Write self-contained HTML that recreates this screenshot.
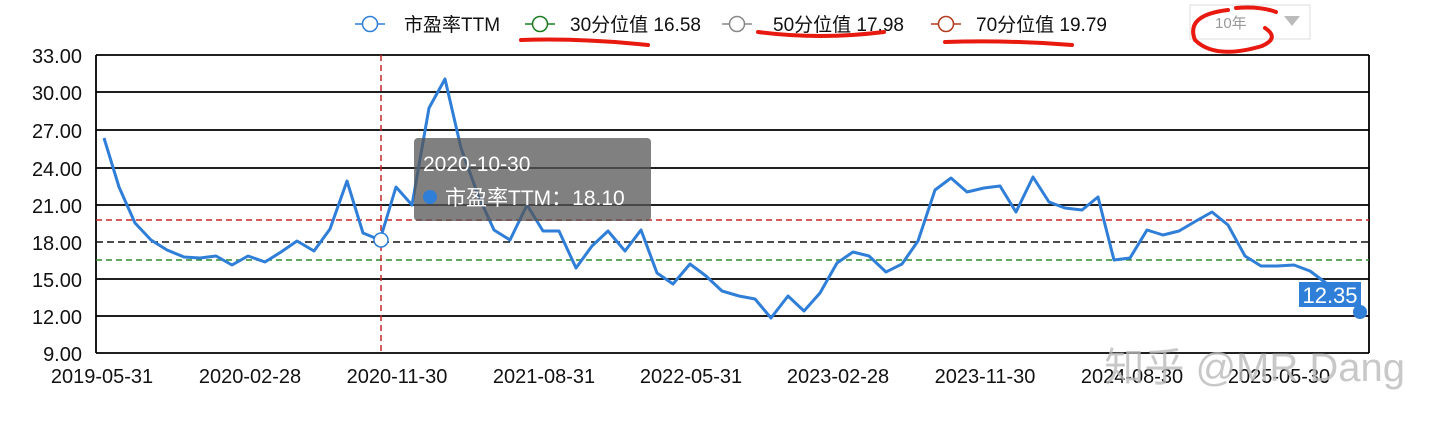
<!DOCTYPE html>
<html><head><meta charset="utf-8"><style>
html,body{margin:0;padding:0;background:#fff;width:1440px;height:424px;overflow:hidden}
text{font-family:"Liberation Sans","Noto Sans CJK SC",sans-serif}
</style></head><body>
<svg width="1440" height="424" viewBox="0 0 1440 424" xmlns="http://www.w3.org/2000/svg">
<g stroke="#000" stroke-width="1.8">
<line x1="96" y1="55" x2="1369" y2="55"/><line x1="96" y1="92" x2="1369" y2="92"/>
<line x1="96" y1="130" x2="1369" y2="130"/><line x1="96" y1="168" x2="1369" y2="168"/>
<line x1="96" y1="205" x2="1369" y2="205"/><line x1="96" y1="279" x2="1369" y2="279"/>
<line x1="96" y1="316" x2="1369" y2="316"/><line x1="96" y1="353" x2="1369" y2="353"/>
<line x1="96" y1="55" x2="96" y2="353"/><line x1="1369" y1="55" x2="1369" y2="353"/>
</g>
<line x1="96" y1="242" x2="1369" y2="242" stroke="#111" stroke-width="1.5" stroke-dasharray="7,4"/>
<line x1="96" y1="220" x2="1369" y2="220" stroke="#c62828" stroke-width="1.5" stroke-dasharray="6,4"/>
<line x1="96" y1="260" x2="1369" y2="260" stroke="#2e8b2e" stroke-width="1.5" stroke-dasharray="6,4"/>
<line x1="381" y1="55" x2="381" y2="353" stroke="#c62828" stroke-width="1.5" stroke-dasharray="6,4"/>
<g font-size="20" fill="#111" text-anchor="end">
<text x="82" y="63">33.00</text><text x="82" y="100">30.00</text><text x="82" y="138">27.00</text>
<text x="82" y="176">24.00</text><text x="82" y="213">21.00</text><text x="82" y="250">18.00</text>
<text x="82" y="287">15.00</text><text x="82" y="324">12.00</text><text x="82" y="361">9.00</text>
</g>
<g font-size="20" fill="#111" text-anchor="middle">
<text x="102" y="383">2019-05-31</text><text x="250" y="383">2020-02-28</text><text x="397" y="383">2020-11-30</text>
<text x="544" y="383">2021-08-31</text><text x="691" y="383">2022-05-31</text><text x="838" y="383">2023-02-28</text>
<text x="985" y="383">2023-11-30</text><text x="1132" y="383">2024-08-30</text><text x="1279" y="383">2025-05-30</text>
</g>
<polyline fill="none" stroke="#2f7ed8" stroke-width="3" stroke-linejoin="round" points="104,138 119,187 135,223 151,240 167,250 184,257 200,258 216,256 232,265 248,256 265,262 281,252 297,241 314,251 330,229 347,181 363,233 380,240 396,187 412,205 429,108 445,79 461,148 478,195 494,230 510,240 527,205 543,231 559,231 576,268 592,246 608,231 625,251 641,230 657,273 673,284 690,264 706,276 722,291 739,296 755,299 771,318 788,296 804,311 820,293 837,263 853,252 869,256 886,272 902,264 918,241 935,190 951,178 967,192 984,188 1000,186 1016,212 1033,177 1049,202 1065,208 1082,210 1098,197 1114,260 1130,258 1147,230 1163,235 1179,231 1196,221 1212,212 1228,225 1245,256 1261,266 1277,266 1294,265 1310,271 1326,283 1343,290 1360,312"/>
<circle cx="381" cy="240" r="7" fill="#fff" stroke="#2f7ed8" stroke-width="1.5"/>
<rect x="414" y="138" width="237" height="83" rx="4" fill="#555" opacity="0.75"/>
<text x="423" y="171" font-size="21" fill="#fff">2020-10-30</text>
<circle cx="430" cy="197" r="7" fill="#2f7ed8"/>
<text x="445" y="205" font-size="21" fill="#fff">市盈率TTM：18.10</text>
<rect x="1299" y="282" width="62" height="25" fill="#2f7ed8"/>
<text x="1330" y="303" font-size="22" fill="#fff" text-anchor="middle">12.35</text>
<circle cx="1360" cy="312" r="7" fill="#2f7ed8"/>
<text x="1405" y="381" font-size="40" fill="#bbb" opacity="0.8" text-anchor="end">知乎 @MR Dang</text>
<g font-size="19" fill="#111">
<line x1="355" y1="24" x2="385" y2="24" stroke="#2f7ed8" stroke-width="1.5"/><circle cx="370" cy="24" r="7.5" fill="#fff" stroke="#2f7ed8" stroke-width="1.5"/>
<text x="404" y="31">市盈率TTM</text>
<line x1="525" y1="24" x2="555" y2="24" stroke="#1e7a1e" stroke-width="1.5"/><circle cx="540" cy="24" r="7.5" fill="#fff" stroke="#1e7a1e" stroke-width="1.5"/>
<text x="570" y="31">30分位值 16.58</text>
<line x1="722" y1="24" x2="752" y2="24" stroke="#888" stroke-width="1.5"/><circle cx="737" cy="24" r="7.5" fill="#fff" stroke="#888" stroke-width="1.5"/>
<text x="773" y="31">50分位值 17.98</text>
<line x1="931" y1="24" x2="961" y2="24" stroke="#b03a1a" stroke-width="1.5"/><circle cx="946" cy="24" r="7.5" fill="#fff" stroke="#b03a1a" stroke-width="1.5"/>
<text x="976" y="31">70分位值 19.79</text>
</g>
<rect x="1190" y="5" width="120" height="34" fill="#fff" stroke="#ddd"/>
<text x="1215" y="28" font-size="15" fill="#999" font-family="Liberation Serif,serif">10年</text>
<polygon points="1284,16 1300,16 1292,26" fill="#bbb"/>
<g fill="none" stroke="#e8190f" stroke-width="4" stroke-linecap="round">
<path d="M521,40 Q580,38 648,45"/>
<path d="M758,32 Q820,40 884,32"/>
<path d="M945,42 Q1010,40 1072,45"/>
<path d="M1228,10 Q1185,15 1195,40 Q1215,60 1262,46 Q1280,38 1265,28 M1236,8 Q1260,6 1276,12"/>
</g>
</svg>
</body></html>
